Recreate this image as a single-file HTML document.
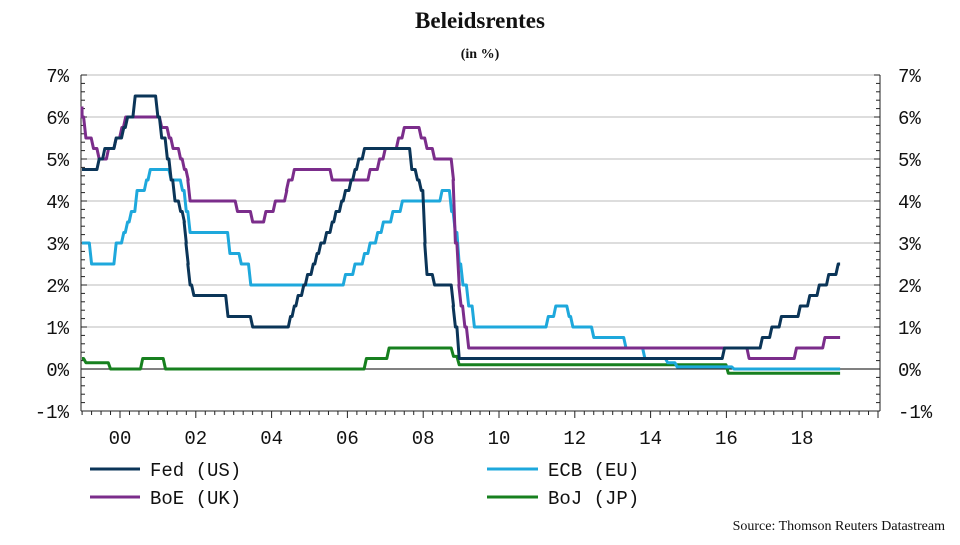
<!DOCTYPE html>
<html><head><meta charset="utf-8"><style>
body{margin:0;background:#fff;}
svg text{font-family:"Liberation Mono","DejaVu Sans Mono",monospace;fill:#111;}
</style></head><body>
<svg width="960" height="540" viewBox="0 0 960 540">
<text x="480" y="28" text-anchor="middle" font-size="23" font-weight="bold" style="font-family:'Liberation Serif',serif">Beleidsrentes</text>
<text x="480" y="58" text-anchor="middle" font-size="14" font-weight="bold" style="font-family:'Liberation Serif',serif">(in %)</text>
<g id="grid"></g><g id="axes"></g><g id="series"></g>
<g>
<line x1="90" y1="469" x2="140" y2="469" stroke="#0b3558" stroke-width="3"/><text x="150" y="476" font-size="19">Fed (US)</text>
<line x1="487" y1="469" x2="538" y2="469" stroke="#1ea8dc" stroke-width="3"/><text x="548" y="476" font-size="19">ECB (EU)</text>
<line x1="90" y1="497" x2="140" y2="497" stroke="#7b2d8b" stroke-width="3"/><text x="150" y="504" font-size="19">BoE (UK)</text>
<line x1="487" y1="497" x2="538" y2="497" stroke="#17801f" stroke-width="3"/><text x="548" y="504" font-size="19">BoJ (JP)</text>
</g>
<text x="945" y="530" text-anchor="end" font-size="14" style="font-family:'Liberation Serif',serif">Source: Thomson Reuters Datastream</text>
</svg>
<script>
const yTicks=[-1,0,1,2,3,4,5,6,7];
const xTickYears=[2000,2002,2004,2006,2008,2010,2012,2014,2016,2018];
const fedDates=[1998.9,1999.45,1999.6,1999.9,2000.1,2000.2,2000.4,2001.0,2001.1,2001.25,2001.35,2001.45,2001.6,2001.7,2001.75,2001.8,2001.85,2001.95,2002.85,2003.5,2004.5,2004.6,2004.7,2004.85,2004.95,2005.1,2005.2,2005.3,2005.45,2005.6,2005.7,2005.85,2005.95,2006.1,2006.2,2006.3,2006.45,2007.7,2007.85,2007.95,2008.05,2008.1,2008.3,2008.8,2008.85,2008.95,2015.95,2016.95,2017.2,2017.45,2017.95,2018.2,2018.45,2018.7,2018.95];
const fedValues=[4.75,5.0,5.25,5.5,5.75,6.0,6.5,6.0,5.5,5.0,4.5,4.0,3.75,3.5,3.0,2.5,2.0,1.75,1.25,1.0,1.25,1.5,1.75,2.0,2.25,2.5,2.75,3.0,3.25,3.5,3.75,4.0,4.25,4.5,4.75,5.0,5.25,4.75,4.5,4.25,3.0,2.25,2.0,1.5,1.0,0.25,0.5,0.75,1.0,1.25,1.5,1.75,2.0,2.25,2.5];
const ecbDates=[1998.9,1999.25,1999.9,2000.1,2000.2,2000.3,2000.45,2000.7,2000.8,2001.35,2001.65,2001.75,2001.85,2002.9,2003.2,2003.45,2005.95,2006.2,2006.45,2006.6,2006.8,2006.95,2007.2,2007.45,2008.5,2008.75,2008.85,2008.95,2009.05,2009.2,2009.35,2011.3,2011.5,2011.85,2011.95,2012.5,2013.35,2013.85,2014.45,2014.7,2016.2];
const ecbValues=[3.0,2.5,3.0,3.25,3.5,3.75,4.25,4.5,4.75,4.5,4.25,3.75,3.25,2.75,2.5,2.0,2.25,2.5,2.75,3.0,3.25,3.5,3.75,4.0,4.25,3.75,3.25,2.5,2.0,1.5,1.0,1.25,1.5,1.25,1.0,0.75,0.5,0.25,0.15,0.05,0.0];
const boeDates=[1998.9,1999.0,1999.1,1999.3,1999.45,1999.7,1999.9,2000.05,2000.15,2001.1,2001.3,2001.4,2001.6,2001.7,2001.8,2001.85,2003.1,2003.5,2003.85,2004.1,2004.4,2004.45,2004.6,2005.6,2006.6,2006.85,2007.0,2007.35,2007.5,2007.95,2008.1,2008.3,2008.8,2008.85,2008.95,2009.0,2009.1,2009.2,2016.6,2017.85,2018.6];
const boeValues=[6.25,6.0,5.5,5.25,5.0,5.25,5.5,5.75,6.0,5.75,5.5,5.25,5.0,4.75,4.5,4.0,3.75,3.5,3.75,4.0,4.25,4.5,4.75,4.5,4.75,5.0,5.25,5.5,5.75,5.5,5.25,5.0,4.5,3.0,2.0,1.5,1.0,0.5,0.25,0.5,0.75];
const bojDates=[1998.9,1999.1,1999.75,2000.6,2001.2,2006.5,2007.1,2008.8,2008.95,2016.05];
const bojValues=[0.25,0.15,0.0,0.25,0.0,0.25,0.5,0.3,0.1,-0.1];
const endYear=2019.0;
const NS='http://www.w3.org/2000/svg';
const L=81,R=880,T=75,B=411;
const x=y=>120+(y-2000)*37.9;
const yv=v=>369-v*42;
function mk(tag,attrs,parent){const e=document.createElementNS(NS,tag);for(const k in attrs)e.setAttribute(k,attrs[k]);parent.appendChild(e);return e;}
const grid=document.getElementById('grid'),axes=document.getElementById('axes'),ser=document.getElementById('series');
yTicks.forEach(v=>{
  if(v>0){const g=mk('line',{x1:L,x2:R,y1:yv(v),y2:yv(v),stroke:'#bbb','stroke-width':1},grid);
  
  }
  const lt=mk('text',{x:L-12,y:yv(v)+7,'text-anchor':'end','font-size':19},axes);lt.textContent=v+'%';
  
  
  const rt=mk('text',{x:R+18,y:yv(v)+7,'text-anchor':'start','font-size':19},axes);rt.textContent=v+'%';
  
  
});
for(let v=-1;v<=7.001;v+=0.2){const big=Math.abs(v-Math.round(v))<0.01;
  mk('line',{x1:L,x2:L+(big?6:4),y1:yv(v),y2:yv(v),stroke:'#222'},axes);
  mk('line',{x1:R,x2:R-(big?6:4),y1:yv(v),y2:yv(v),stroke:'#222'},axes);}
const zl=mk('line',{x1:L,x2:R,y1:yv(0),y2:yv(0),stroke:'#000','stroke-width':1},axes);


mk('line',{x1:L,x2:L,y1:T,y2:B,stroke:'#222'},axes);
mk('line',{x1:R,x2:R,y1:T,y2:B,stroke:'#222'},axes);
mk('line',{x1:L,x2:R,y1:B,y2:B,stroke:'#222'},axes);
for(let yr=1999;yr<=2020;yr+=0.25){const px=x(yr);if(px<L||px>R)continue;const big=Math.abs(yr-Math.round(yr))<0.01&&Math.round(yr)%2===0;
  mk('line',{x1:px,x2:px,y1:B,y2:B+(big?7:4),stroke:'#222'},axes);}
xTickYears.forEach(yr=>{const t=mk('text',{x:x(yr),y:B+33,'text-anchor':'middle','font-size':19},axes);
  t.textContent=String(yr%100).padStart(2,'0');
  
  });
function draw(dates,vals,color,name){
  const pts=[];
  for(let i=0;i<dates.length;i++){
    if(i>0)pts.push([x(dates[i]-0.06),yv(vals[i-1])]);
    pts.push([x(dates[i]),yv(vals[i])]);}
  pts.push([x(endYear),yv(vals[vals.length-1])]);
  const p=mk('polyline',{points:pts.map(p=>Math.max(p[0],L+1).toFixed(1)+','+p[1].toFixed(1)).join(' '),fill:'none',stroke:color,'stroke-width':3,'stroke-linejoin':'round'},ser);
  
  
}
draw(bojDates,bojValues,'#17801f','boj-line');
draw(ecbDates,ecbValues,'#1ea8dc','ecb-line');
draw(boeDates,boeValues,'#7b2d8b','boe-line');
draw(fedDates,fedValues,'#0b3558','fed-line');
</script>
</body></html>
